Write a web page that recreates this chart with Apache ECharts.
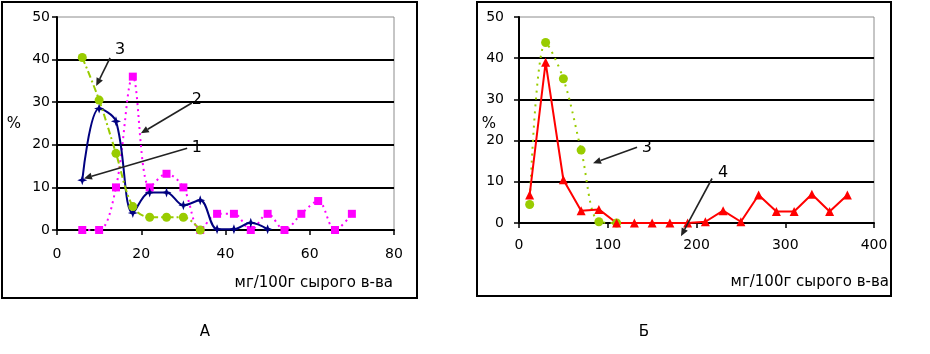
<!DOCTYPE html>
<html><head><meta charset="utf-8">
<script src="https://cdn.jsdelivr.net/npm/echarts/dist/echarts.min.js"></script>
<style>html,body{margin:0;padding:0;background:#fff}#c{width:930px;height:354px}</style>
</head><body><div id="c"></div>
<script>
// ---- Data ----
// Panel A
const xA1 = [6,10,14,18,22,26,30,34,38,42,46,50];
const yA1 = [11.7,28.5,25.5,4,8.8,8.8,5.8,7,0.2,0.2,1.7,0.2];          // curve 1 (navy)
const xA2 = [6,10,14,18,22,26,30,34,38,42,46,50,54,58,62,66,70];
const yA2 = [0,0,10,36,10,13.2,10,0,3.8,3.8,0,3.8,0,3.8,6.8,0,3.8];    // curve 2 (magenta)
const xA3 = [6,10,14,18,22,26,30,34];
const yA3 = [40.5,30.5,18,5.5,3,3,3,0];                                // curve 3 (green)
// Panel Б
const xB4 = [12,30,50,70,90,110,130,150,170,190,210,230,250,270,290,310,330,350,370];
const yB4 = [6.8,39,10.5,3,3.3,0,0,0,0,0,0.3,3,0.3,6.8,2.8,2.8,7,2.8,6.8]; // curve 4 (red)
const xB3 = [12,30,50,70,90,110];
const yB3 = [4.5,43.8,35,17.7,0.3,0];                                   // curve 3 (green)
const xTicksA = [0,20,40,60,80];
const xTicksB = [0,100,200,300,400];
const yTicks = [0,10,20,30,40,50];
const axisTitle = 'мг/100г сырого в-ва';
const panelLabels = ['А','Б'];

const pairs = (xs, ys) => xs.map((x,i)=>[x, ys[i]]);
const FONT = '"DejaVu Sans", Arial, sans-serif';
const chart = echarts.init(document.getElementById('c'));

function xAxisCfg(gi, ticks, margin){
  return {type:'value', gridIndex:gi, min:ticks[0], max:ticks[ticks.length-1], interval:ticks[1]-ticks[0],
    axisLine:{show:true, onZero:false, lineStyle:{color:'#000', width:2}},
    axisTick:{show:true, inside:false, length:5, lineStyle:{color:'#000', width:1.5}},
    axisLabel:{color:'#000', fontSize:14, fontFamily:FONT, margin:margin},
    splitLine:{show:false}};
}
function yAxisCfg(gi, margin){
  return {type:'value', gridIndex:gi, min:yTicks[0], max:yTicks[yTicks.length-1], interval:yTicks[1]-yTicks[0],
    axisLine:{show:true, lineStyle:{color:'#000', width:2}},
    axisTick:{show:true, length:5, lineStyle:{color:'#000', width:1.5}},
    axisLabel:{color:'#000', fontSize:14, fontFamily:FONT, margin:margin},
    splitLine:{show:true, showMaxLine:false, lineStyle:{color:'#000', width:2}}};
}
const star = 'path://M5,0 L6.3,3.7 L10,5 L6.3,6.3 L5,10 L3.7,6.3 L0,5 L3.7,3.7 Z';

chart.setOption({
  animation:false,
  backgroundColor:'#fff',
  grid:[
    {left:57, top:17, width:337, height:213, show:true, borderColor:'#8c8c8c', borderWidth:1},
    {left:519, top:17, width:355, height:206, show:true, borderColor:'#8c8c8c', borderWidth:1}
  ],
  xAxis:[xAxisCfg(0, xTicksA, 17), xAxisCfg(1, xTicksB, 15)],
  yAxis:[yAxisCfg(0, 7), yAxisCfg(1, 15)],
  series:[
    {name:'2', type:'line', xAxisIndex:0, yAxisIndex:0, data:pairs(xA2,yA2), smooth:0.35,
      symbol:'rect', symbolSize:8, lineStyle:{color:'#ff00ff', width:2, type:[2,4]}, itemStyle:{color:'#ff00ff'}},
    {name:'1', type:'line', xAxisIndex:0, yAxisIndex:0, data:pairs(xA1,yA1), smooth:0.35,
      symbol:star, symbolSize:10, lineStyle:{color:'#000080', width:2}, itemStyle:{color:'#000080'}},
    {name:'3', type:'line', xAxisIndex:0, yAxisIndex:0, data:pairs(xA3,yA3), smooth:0.35,
      symbol:'circle', symbolSize:9, lineStyle:{color:'#99cc00', width:2, type:[7,3,2,3]}, itemStyle:{color:'#99cc00'}},
    {name:'3б', type:'line', xAxisIndex:1, yAxisIndex:1, data:pairs(xB3,yB3), smooth:0.35,
      symbol:'circle', symbolSize:9, lineStyle:{color:'#99cc00', width:2, type:[2,5]}, itemStyle:{color:'#99cc00'}},
    {name:'4', type:'line', xAxisIndex:1, yAxisIndex:1, data:pairs(xB4,yB4), smooth:false,
      symbol:'triangle', symbolSize:9, lineStyle:{color:'#ff0000', width:2}, itemStyle:{color:'#ff0000'}}
  ]
});

// ---- annotations (arrows in data coordinates) ----
const arrows = [
  {g:0, from:[12.6,40.4], to:[9.3,33.8], label:'3', at:[15,42.2]},
  {g:0, from:[32,29.8], to:[19.9,22.7], label:'2', at:[33.2,30.5]},
  {g:0, from:[30.9,19.2], to:[6.4,12.1], label:'1', at:[33.2,19.4]},
  {g:1, from:[133,18.4], to:[83.4,14.5], label:'3', at:[144,18.3]},
  {g:1, from:[217.5,10.8], to:[182.5,-3.2], label:'4', at:[230,12.2]}
];
const els = [];
arrows.forEach(a=>{
  const p1 = chart.convertToPixel({gridIndex:a.g}, a.from);
  const p2 = chart.convertToPixel({gridIndex:a.g}, a.to);
  const pl = chart.convertToPixel({gridIndex:a.g}, a.at);
  const dx = p2[0]-p1[0], dy = p2[1]-p1[1], L = Math.hypot(dx,dy);
  const ux = dx/L, uy = dy/L, hl = 8, hw = 3.5;
  const bx = p2[0]-ux*hl, by = p2[1]-uy*hl;
  els.push({type:'line', z:100, shape:{x1:p1[0], y1:p1[1], x2:bx, y2:by}, style:{stroke:'#222', lineWidth:1.6}});
  els.push({type:'polygon', z:100, shape:{points:[[p2[0],p2[1]],[bx-uy*hw, by+ux*hw],[bx+uy*hw, by-ux*hw]]}, style:{fill:'#222'}});
  els.push({type:'text', z:100, style:{text:a.label, x:pl[0], y:pl[1], font:'16px '+FONT, fill:'#000', align:'center', verticalAlign:'middle', textAlign:'center', textVerticalAlign:'middle'}});
});
// frames
els.push({type:'rect', z:0, shape:{x:2, y:2, width:415, height:296}, style:{fill:null, stroke:'#000', lineWidth:2}});
els.push({type:'rect', z:0, shape:{x:477, y:2, width:414, height:294}, style:{fill:null, stroke:'#000', lineWidth:2}});
// axis titles, % labels, panel labels
const txt = (t,x,y,size,align)=>({type:'text', z:100, style:{text:t, x:x, y:y, font:size+'px '+FONT, fill:'#000', align:align, verticalAlign:'middle', textAlign:align, textVerticalAlign:'middle'}});
els.push(txt(axisTitle, 393, 283, 15, 'right'));
els.push(txt(axisTitle, 889, 282, 15, 'right'));
els.push(txt('%', 14, 124, 15, 'center'));
els.push(txt('%', 489, 124, 15, 'center'));
els.push(txt(panelLabels[0], 205, 332, 15, 'center'));
els.push(txt(panelLabels[1], 644, 332, 15, 'center'));
chart.setOption({graphic:{elements:els}});
</script></body></html>
